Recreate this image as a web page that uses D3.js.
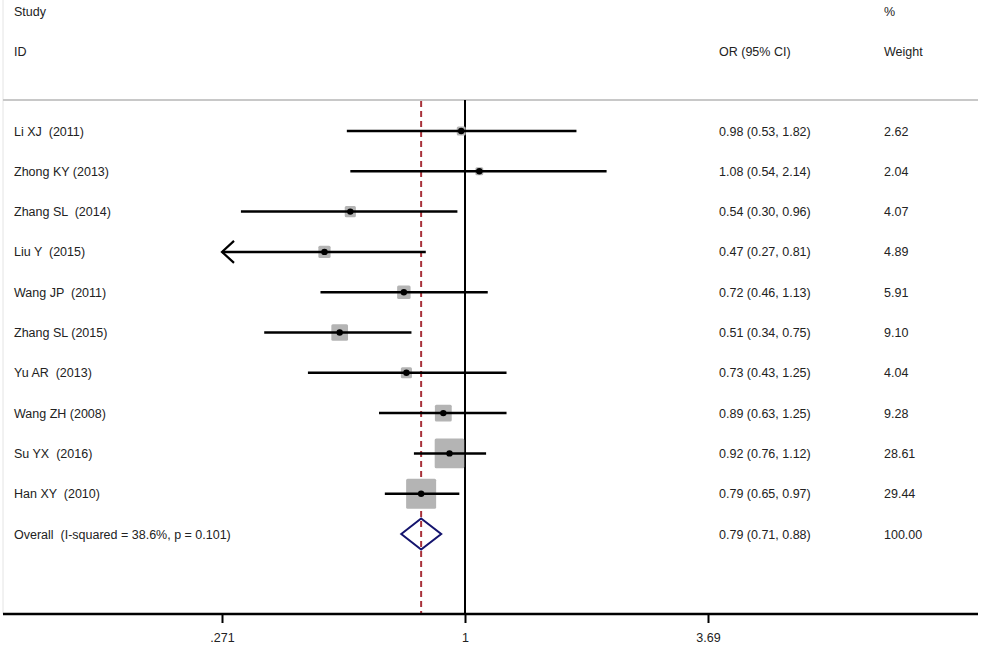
<!DOCTYPE html>
<html>
<head>
<meta charset="utf-8">
<script src="https://cdn.jsdelivr.net/npm/d3@7"></script>
<style>
    body { margin: 0; background: #fff; }
    svg { display: block; font-family: "Liberation Sans", Arial, sans-serif; }
    text { fill: #222; font-size: 12.5px; white-space: pre; }
</style>
</head>
<body>
<svg id="chart"></svg>
<script>
const studies = ["Li XJ  (2011)", "Zhong KY (2013)", "Zhang SL  (2014)", "Liu Y  (2015)", "Wang JP  (2011)",
    "Zhang SL (2015)", "Yu AR  (2013)", "Wang ZH (2008)", "Su YX  (2016)", "Han XY  (2010)"];
const orValues = [0.98, 1.08, 0.54, 0.47, 0.72, 0.51, 0.73, 0.89, 0.92, 0.79];
const lowerCI = [0.53, 0.54, 0.30, 0.27, 0.46, 0.34, 0.43, 0.63, 0.76, 0.65];
const upperCI = [1.82, 2.14, 0.96, 0.81, 1.13, 0.75, 1.25, 1.25, 1.12, 0.97];
const weights = ["2.62", "2.04", "4.07", "4.89", "5.91", "9.10", "4.04", "9.28", "28.61", "29.44"];

const overallLabel = "Overall  (I-squared = 38.6%, p = 0.101)";
const overall = { or: 0.79, lo: 0.71, hi: 0.88, weight: "100.00" };

const tickValues = [0.271, 1, 3.69];
const tickLabels = [".271", "1", "3.69"];

const width = 982, height = 646;

const svg = d3.select("#chart").attr("width", width).attr("height", height);

const x = d3.scaleLog().domain([0.271, 3.69]).range([222, 708]);
const y = d3.scaleLinear().domain([0, 10]).range([131, 534]);
const boxSide = d3.scaleSqrt().domain([0, 29.44]).range([0, 30]);

const fmt = d3.format(".2f");
const ciText = (o, l, h) => `${fmt(o)} (${fmt(l)}, ${fmt(h)})`;

const colStudy = 14, colOR = 719, colWeight = 884;

// left border and header rule
svg.append("line")
    .attr("x1", 3).attr("x2", 3).attr("y1", 0).attr("y2", 614)
    .attr("stroke", "#e4e4e4").attr("stroke-width", 1);

svg.append("line")
    .attr("x1", 3).attr("x2", 978).attr("y1", 100).attr("y2", 100)
    .attr("stroke", "#c8c8c8").attr("stroke-width", 2);

// headers
const header = svg.append("g");
header.append("text").attr("x", colStudy).attr("y", 16).text("Study");
header.append("text").attr("x", colStudy).attr("y", 56).text("ID");
header.append("text").attr("x", colOR).attr("y", 56).text("OR (95% CI)");
header.append("text").attr("x", colWeight).attr("y", 16).text("%");
header.append("text").attr("x", colWeight).attr("y", 56).text("Weight");

// null line
svg.append("line")
    .attr("x1", x(1)).attr("x2", x(1)).attr("y1", 100).attr("y2", 614)
    .attr("stroke", "#000").attr("stroke-width", 2);

// overall effect dashed line
svg.append("line")
    .attr("x1", x(overall.or)).attr("x2", x(overall.or)).attr("y1", 101).attr("y2", 614)
    .attr("stroke", "#a8323a").attr("stroke-width", 2)
    .attr("stroke-dasharray", "6,4");

const rows = studies.map((s, i) => ({
    name: s, or: orValues[i], lo: lowerCI[i], hi: upperCI[i], weight: weights[i], i: i
}));

const xMin = x.domain()[0], xMax = x.domain()[1];

const row = svg.append("g").selectAll("g")
    .data(rows)
    .join("g");

// weight boxes
row.append("rect")
    .attr("x", d => x(d.or) - boxSide(+d.weight) / 2)
    .attr("y", d => y(d.i) - boxSide(+d.weight) / 2)
    .attr("width", d => boxSide(+d.weight))
    .attr("height", d => boxSide(+d.weight))
    .attr("rx", 1.5)
    .attr("fill", "#b4b4b4");

// CI lines
row.append("line")
    .attr("x1", d => x(Math.max(d.lo, xMin)))
    .attr("x2", d => x(Math.min(d.hi, xMax)))
    .attr("y1", d => y(d.i)).attr("y2", d => y(d.i))
    .attr("stroke", "#000").attr("stroke-width", 2.5);

// arrow for truncated CI
row.filter(d => d.lo < xMin)
    .append("path")
    .attr("d", d => {
        const ax = x(xMin), ay = y(d.i);
        return `M${ax + 12},${ay - 11} L${ax},${ay} L${ax + 12},${ay + 11}`;
    })
    .attr("fill", "none").attr("stroke", "#000").attr("stroke-width", 2.2);

// point estimates
row.append("circle")
    .attr("cx", d => x(d.or)).attr("cy", d => y(d.i))
    .attr("r", 3.2).attr("fill", "#000");

row.append("text").attr("x", colStudy).attr("y", d => y(d.i) + 4.5).text(d => d.name);
row.append("text").attr("x", colOR).attr("y", d => y(d.i) + 4.5).text(d => ciText(d.or, d.lo, d.hi));
row.append("text").attr("x", colWeight).attr("y", d => y(d.i) + 4.5).text(d => d.weight);

// overall diamond
const oy = y(10);
svg.append("path")
    .attr("d", `M${x(overall.lo)},${oy} L${x(overall.or)},${oy - 15.5} L${x(overall.hi)},${oy} L${x(overall.or)},${oy + 15.5} Z`)
    .attr("fill", "none").attr("stroke", "#14146e").attr("stroke-width", 2);

svg.append("text").attr("x", colStudy).attr("y", oy + 4.5).text(overallLabel);
svg.append("text").attr("x", colOR).attr("y", oy + 4.5).text(ciText(overall.or, overall.lo, overall.hi));
svg.append("text").attr("x", colWeight).attr("y", oy + 4.5).text(overall.weight);

// x axis
const axisG = svg.append("g").attr("transform", "translate(0,614)");
axisG.append("line")
    .attr("x1", 3).attr("x2", 978).attr("y1", 0).attr("y2", 0)
    .attr("stroke", "#000").attr("stroke-width", 2.5);

const axis = d3.axisBottom(x)
    .tickValues(tickValues)
    .tickFormat((d, i) => tickLabels[i])
    .tickSize(9)
    .tickPadding(10);

axisG.call(axis);
axisG.select(".domain").remove();
axisG.selectAll(".tick line").attr("stroke", "#000").attr("stroke-width", 2);
axisG.selectAll(".tick text")
    .attr("fill", "#222")
    .style("font-size", "12.5px")
    .style("font-family", "'Liberation Sans', Arial, sans-serif");
</script>
</body>
</html>
